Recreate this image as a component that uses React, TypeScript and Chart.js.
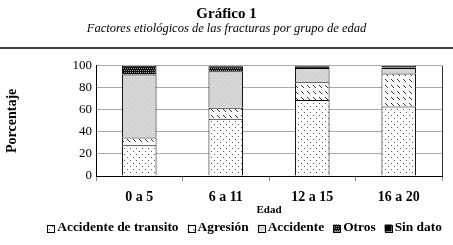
import React, { useEffect, useRef } from 'react';
import { Chart, registerables } from 'chart.js';

Chart.register(...registerables);

const categories = ['0 a 5', '6 a 11', '12 a 15', '16 a 20'];
const seriesNames = ['Accidente de transito', 'Agresión', 'Accidente', 'Otros', 'Sin dato'];
const transito = [28, 52, 69, 63];
const agresion = [7, 10, 16, 30];
const accidente = [57, 33, 13, 5];
const otros = [8, 4.5, 1.5, 0.5];
const sinDato = [0, 0.5, 0.5, 1.5];
const yTicks = [0, 20, 40, 60, 80, 100];

const FONT = '"Liberation Serif", "DejaVu Serif", serif';

function makePattern(kind: string): CanvasPattern | string {
  const c = document.createElement('canvas');
  const s = 6;
  c.width = s;
  c.height = s;
  const g = c.getContext('2d')!;
  if (kind === 'dots') {
    g.fillStyle = '#ffffff';
    g.fillRect(0, 0, s, s);
    g.fillStyle = '#555555';
    g.fillRect(1, 1, 1, 1);
    g.fillRect(4, 4, 1, 1);
  } else if (kind === 'dash') {
    g.fillStyle = '#ffffff';
    g.fillRect(0, 0, s, s);
    g.fillStyle = '#333333';
    g.fillRect(1, 1, 1, 1);
    g.fillRect(2, 2, 1, 1);
    g.fillRect(3, 3, 1, 1);
  } else if (kind === 'gray') {
    g.fillStyle = '#d6d6d6';
    g.fillRect(0, 0, s, s);
    g.fillStyle = '#c4c4c4';
    g.fillRect(0, 0, 1, 1);
    g.fillRect(3, 3, 1, 1);
  } else if (kind === 'check') {
    g.fillStyle = '#111111';
    g.fillRect(0, 0, s, s);
    g.fillStyle = '#9a9a9a';
    for (let y = 0; y < s; y += 2) {
      for (let x = (y / 2) % 2; x < s; x += 2) g.fillRect(x, y, 1, 1);
    }
  } else {
    return '#000000';
  }
  return g.createPattern(c, 'repeat') as CanvasPattern;
}

const decorations = {
  id: 'decorations',
  afterDraw(chart: any) {
    const ctx = chart.ctx;
    const a = chart.chartArea;
    ctx.save();
    // header rule
    ctx.strokeStyle = '#000';
    ctx.lineWidth = 1.5;
    ctx.beginPath();
    ctx.moveTo(0, 48);
    ctx.lineTo(453, 48);
    ctx.stroke();
    // right frame
    ctx.strokeStyle = '#333';
    ctx.lineWidth = 1;
    ctx.beginPath();
    ctx.moveTo(a.right + 0.5, a.top);
    ctx.lineTo(a.right + 0.5, a.bottom);
    ctx.stroke();
    // legend
    ctx.font = `bold 13.4px ${FONT}`;
    ctx.textBaseline = 'middle';
    ctx.fillStyle = '#000';
    const box = 7;
    const gap = 3;
    const spacing = 9;
    const items = chart.data.datasets.map((d: any) => ({
      text: d.label,
      fill: d.backgroundColor,
      w: ctx.measureText(d.label).width,
    }));
    const total =
      items.reduce((s: number, it: any) => s + box + gap + it.w, 0) + spacing * (items.length - 1);
    let x = 244.6 - total / 2;
    const cy = 228;
    items.forEach((it: any) => {
      ctx.fillStyle = it.fill;
      ctx.fillRect(x, cy - box / 2, box, box);
      ctx.strokeStyle = '#000';
      ctx.lineWidth = 1;
      ctx.strokeRect(Math.round(x) + 0.5, Math.round(cy - box / 2) + 0.5, box, box);
      x += box + gap;
      ctx.fillStyle = '#000';
      ctx.fillText(it.text, x, cy);
      x += it.w + spacing;
    });
    ctx.restore();
  },
};

export default function App() {
  const ref = useRef<HTMLCanvasElement>(null);
  useEffect(() => {
    const kinds = ['dots', 'dash', 'gray', 'check', 'black'];
    const values = [transito, agresion, accidente, otros, sinDato];
    const datasets = seriesNames.map((name, i) => ({
      label: name,
      data: values[i],
      backgroundColor: makePattern(kinds[i]),
      borderColor: '#000',
      borderWidth: 1,
      categoryPercentage: 0.4,
      barPercentage: 1,
    }));
    const chart = new Chart(ref.current!, {
      type: 'bar',
      data: { labels: categories, datasets },
      plugins: [decorations],
      options: {
        responsive: false,
        animation: false,
        layout: { padding: { left: 0, right: 0, top: 0, bottom: 29.5 } },
        plugins: {
          tooltip: { enabled: false },
          legend: { display: false },
          title: {
            display: true,
            text: 'Gráfico 1',
            color: '#000',
            font: { family: FONT, size: 15, weight: 'bold', lineHeight: 1 },
            padding: { top: 7, bottom: 0 },
          },
          subtitle: {
            display: true,
            text: 'Factores etiológicos de las fracturas por grupo de edad',
            color: '#000',
            font: { family: FONT, size: 12.5, style: 'italic', lineHeight: 1.1 },
            padding: { top: 0, bottom: 30 },
          },
        },
        scales: {
          x: {
            stacked: true,
            afterFit: (s: any) => {
              s.height = 39.5;
            },
            grid: { display: true, drawOnChartArea: false, drawTicks: true, tickLength: 5, color: '#888', offset: true },
            border: { color: '#000', width: 1 },
            ticks: { color: '#000', font: { family: FONT, size: 14, weight: 'bold', lineHeight: 1 }, padding: 9 },
            title: {
              display: true,
              text: 'Edad',
              color: '#000',
              font: { family: FONT, size: 11, weight: 'bold', lineHeight: 1 },
              padding: { top: 0, bottom: 0 },
            },
          },
          y: {
            stacked: true,
            min: 0,
            max: 100,
            afterFit: (s: any) => {
              s.width = 96;
            },
            grid: { color: '#aaa', drawTicks: false },
            border: { color: '#000', width: 1 },
            ticks: {
              stepSize: 10,
              color: '#000',
              padding: 4,
              font: { family: FONT, size: 13 },
              callback: (v: any) => (yTicks.includes(Number(v)) ? String(v) : ''),
            },
            title: {
              display: true,
              text: 'Porcentaje',
              color: '#000',
              font: { family: FONT, size: 14, weight: 'bold', lineHeight: 1.2 },
              padding: { top: 4, bottom: 4 },
            },
          },
          yRight: {
            type: 'linear',
            position: 'right',
            display: true,
            min: 0,
            max: 100,
            afterFit: (s: any) => {
              s.width = 11;
            },
            grid: { display: false },
            border: { display: false },
            ticks: { display: false },
          },
        },
      },
    } as any);
    return () => chart.destroy();
  }, []);
  return (
    <div style={{ position: 'fixed', left: 0, top: 0, width: 453, height: 245, background: '#fff' }}>
      <canvas ref={ref} width={453} height={245} />
    </div>
  );
}
